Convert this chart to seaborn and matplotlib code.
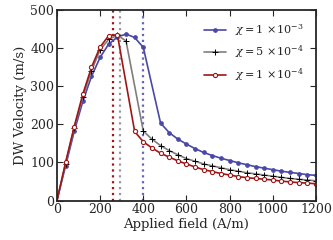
import numpy as np
import pandas as pd
import matplotlib
matplotlib.use('Agg')
import matplotlib.pyplot as plt
import seaborn as sns

# Campo aplicado (A/m) y velocidad de pared (m/s) para cada susceptibilidad
campo_1e3 = [0, 40, 80, 120, 160, 200, 240, 280, 320, 360, 400,
             480, 520, 560, 600, 640, 680, 720, 760, 800, 840, 880, 920, 960,
             1000, 1040, 1080, 1120, 1160, 1200]
vel_1e3 = [0, 91, 181, 260, 325, 375, 410, 428, 436, 427, 401,
           203, 178, 161, 148, 136, 126, 118, 111, 105, 99, 94, 89, 85,
           81, 77, 74, 71, 68, 66]

campo_5e4 = [0, 40, 80, 120, 160, 200, 240, 280, 320,
             400, 440, 480, 520, 560, 600, 640, 680, 720, 760, 800, 840, 880,
             920, 960, 1000, 1040, 1080, 1120, 1160, 1200]
vel_5e4 = [0, 97, 190, 272, 340, 395, 422, 433, 418,
           182, 161, 144, 131, 120, 110, 103, 96, 91, 86, 81, 77, 73,
           70, 67, 64, 61, 58, 56, 54, 52]

campo_1e4 = [0, 40, 80, 120, 160, 200, 240, 280,
             360, 400, 440, 480, 520, 560, 600, 640, 680, 720, 760, 800, 840,
             880, 920, 960, 1000, 1040, 1080, 1120, 1160, 1200]
vel_1e4 = [0, 100, 194, 279, 349, 402, 432, 434,
           181, 154, 138, 124, 114, 104, 96, 88, 81, 76, 71, 67, 63,
           60, 58, 56, 54, 51, 49, 47, 46, 44]

etiquetas = [r'$\chi=1\,\times\!10^{-3}$', r'$\chi=5\,\times\!10^{-4}$',
             r'$\chi=1\,\times\!10^{-4}$']
campo_walker = [400, 290, 258]

sns.set_style('ticks')
plt.rcParams['font.family'] = ['DejaVu Serif']
plt.rcParams['mathtext.fontset'] = 'dejavuserif'
plt.rcParams['xtick.direction'] = 'in'
plt.rcParams['ytick.direction'] = 'in'

azul, gris, rojo = '#4a48a6', '#7f7f7f', '#a01515'

fig = plt.figure(figsize=(3.33, 2.4), dpi=100)
ax = fig.add_axes([0.171, 0.164, 0.778, 0.796])

series = [
    (campo_1e3, vel_1e3, azul, dict(marker='o', markersize=2.6, markerfacecolor=azul, markeredgecolor=azul)),
    (campo_5e4, vel_5e4, gris, dict(marker='+', markersize=4, markeredgecolor='black', markeredgewidth=0.7)),
    (campo_1e4, vel_1e4, rojo, dict(marker='o', markersize=3, markerfacecolor='white', markeredgecolor=rojo, markeredgewidth=0.8)),
]
for (x, y, c, kw), lab in zip(series, etiquetas):
    df = pd.DataFrame({'campo': x, 'vel': y})
    sns.lineplot(data=df, x='campo', y='vel', ax=ax, color=c, lw=1.2,
                 label=lab, markevery=slice(1, None), **kw)

for xv, c in zip(campo_walker, ['#6664bd', '#999999', rojo]):
    ax.axvline(xv, color=c, ls=':', lw=1.6, zorder=0)

ax.set_xlim(0, 1200)
ax.set_ylim(0, 500)
ax.set_xticks([0, 200, 400, 600, 800, 1000, 1200])
ax.set_yticks([0, 100, 200, 300, 400, 500])
ax.tick_params(labelsize=9, top=True, right=True, length=4, width=0.8, pad=2)
for s in ax.spines.values():
    s.set_linewidth(1.3)
ax.set_xlabel('Applied field (A/m)', fontsize=9.5, labelpad=1)
ax.set_ylabel('DW Velocity (m/s)', fontsize=9.5, labelpad=2)
ax.legend(loc='upper right', frameon=False, fontsize=8, handlelength=2.0,
          borderaxespad=0.7, labelspacing=0.55)

fig.savefig('out.png', dpi=100)
